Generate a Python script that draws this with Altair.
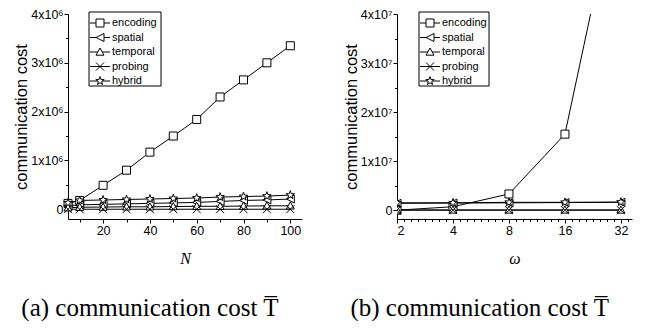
import altair as alt
import pandas as pd

series = ["encoding", "spatial", "temporal", "probing", "hybrid"]

# Panel (a): communication cost vs N
N = [5, 10, 20, 30, 40, 50, 60, 70, 80, 90, 100]
a_encoding = [0.12e6, 0.18e6, 0.49e6, 0.80e6, 1.17e6, 1.50e6, 1.84e6, 2.30e6, 2.65e6, 3.00e6, 3.35e6]
a_spatial = [0.07e6, 0.09e6, 0.10e6, 0.11e6, 0.12e6, 0.13e6, 0.14e6, 0.16e6, 0.18e6, 0.19e6, 0.21e6]
a_temporal = [0.03e6, 0.04e6, 0.045e6, 0.05e6, 0.05e6, 0.055e6, 0.06e6, 0.06e6, 0.065e6, 0.07e6, 0.07e6]
a_probing = [0.0, 0.0, 0.0, 0.0, 0.0, 0.0, 0.0, 0.0, 0.0, 0.0, 0.0]
a_hybrid = [0.13e6, 0.18e6, 0.19e6, 0.20e6, 0.21e6, 0.22e6, 0.23e6, 0.25e6, 0.26e6, 0.27e6, 0.29e6]

# Panel (b): communication cost vs omega
omega = [2, 4, 8, 16, 32]
b_encoding = [0.0, 0.07e7, 0.33e7, 1.55e7, 6.9e7]
b_spatial = [0.14e7, 0.145e7, 0.15e7, 0.155e7, 0.16e7]
b_temporal = [0.005e7, 0.005e7, 0.005e7, 0.005e7, 0.005e7]
b_probing = [0.0, 0.0, 0.0, 0.0, 0.0]
b_hybrid = [0.15e7, 0.15e7, 0.16e7, 0.16e7, 0.165e7]

a_ticks_all = [10, 20, 30, 40, 50, 60, 70, 80, 90, 100]
a_y_ticks = [0, 0.5e6, 1e6, 1.5e6, 2e6, 2.5e6, 3e6, 3.5e6, 4e6]
b_ticks_major = [2, 4, 8, 16, 32]
b_ticks_all = [2 ** (1 + k / 8) for k in range(0, 34)]
b_y_ticks = [0, 0.5e7, 1e7, 1.5e7, 2e7, 2.5e7, 3e7, 3.5e7, 4e7]

STAR = ("M0,-1.1L0.26,-0.36L1.05,-0.34L0.42,0.14L0.65,0.89L0,0.44L-0.65,0.89"
        "L-0.42,0.14L-1.05,-0.34L-0.26,-0.36Z")
plot_paths = [
    "M-1,-1L1,-1L1,1L-1,1Z",
    "M-1,0L1,-1L1,1Z",
    "M0,-1L1,0.8L-1,0.8Z",
    "M-1,-1L1,1M-1,1L1,-1",
    STAR,
]
legend_paths = [
    "M-2.5,0L-1,0M1,0L2.5,0M-1,-1L1,-1L1,1L-1,1Z",
    "M-2.5,0L-1,0M1,0L2.5,0M-1,0L1,-1L1,1Z",
    "M-2.5,0L-0.55,0M0.55,0L2.5,0M0,-1L1,0.8L-1,0.8Z",
    "M-2.5,0L2.5,0M-1,-1L1,1M-1,1L1,-1",
    "M-2.5,0L-0.6,0M0.6,0L2.5,0" + STAR,
]


def long_df(x, cols):
    rows = []
    for name, vals in zip(series, cols):
        for xi, v in zip(x, vals):
            rows.append({"x": xi, "value": v, "series": name})
    return pd.DataFrame(rows)


df_a = long_df(N, [a_encoding, a_spatial, a_temporal, a_probing, a_hybrid])
df_b = long_df(omega, [b_encoding, b_spatial, b_temporal, b_probing, b_hybrid])
legend_df = pd.DataFrame({"series": series})
box_df = pd.DataFrame({"k": [0]})

AX = dict(grid=False, domainColor="black", tickColor="black", labelColor="black",
          labelFont="Liberation Sans", labelFontSize=12.5, titleColor="black",
          labelPadding=1)


def panel(df, xenc_kwargs, yscale, yaxis, box_left, box_right, caption, clip):
    xenc = alt.X("x:Q", **xenc_kwargs)
    yenc = alt.Y("value:Q", scale=yscale, axis=yaxis)
    base = alt.Chart(df)
    lines = base.mark_line(color="black", strokeWidth=1, clip=clip).encode(
        x=xenc, y=yenc, detail="series:N")
    pts = base.mark_point(filled=True, fill="white", stroke="black", strokeWidth=1,
                          opacity=1, size=64, clip=clip).encode(
        x=xenc, y=yenc,
        shape=alt.Shape("series:N", scale=alt.Scale(domain=series, range=plot_paths), legend=None))
    data_layer = alt.layer(lines, pts)
    # legend (box, symbols with line stubs, labels)
    box = alt.Chart(box_df).mark_rect(fill="white", stroke="black", strokeWidth=1).encode(
        x=alt.value(box_left), x2=alt.value(box_right), y=alt.value(-2), y2=alt.value(72))
    ly = alt.Y("series:N", scale=alt.Scale(type="point", domain=series, range=[9, 67], padding=0),
               axis=None)
    lsym = alt.Chart(legend_df).mark_point(filled=True, fill="white", stroke="black",
                                           strokeWidth=1, opacity=1, size=64).encode(
        x=alt.value(box_left + 11), y=ly,
        shape=alt.Shape("series:N", scale=alt.Scale(domain=series, range=legend_paths), legend=None))
    ltxt = alt.Chart(legend_df).mark_text(align="left", baseline="middle", font="Liberation Sans",
                                          fontSize=11, color="black").encode(
        x=alt.value(box_left + 23), y=ly, text="series:N")
    legend_layer = alt.layer(lsym, ltxt)
    return alt.layer(data_layer, box, legend_layer).resolve_scale(
        shape="independent", y="independent").properties(
        title=alt.TitleParams(caption, orient="bottom", font="Liberation Serif", fontSize=25,
                              fontWeight="normal", color="black", offset=29, anchor="middle",
                              frame="bounds", dx=-8))


yaxis_common = dict(title="communication cost", titleFont="Liberation Sans", titleFontSize=16.5,
                    titleFontWeight="normal", titlePadding=1, **AX)

left = panel(
    df_a,
    dict(scale=alt.Scale(domain=[5, 105], nice=False, zero=False),
         axis=alt.Axis(values=a_ticks_all, title="N", titleFont="Liberation Serif",
                       titleFontStyle="italic", titleFontWeight="normal", titleFontSize=16,
                       titlePadding=14,
                       labelExpr="datum.value % 20 == 0 ? datum.label : ''",
                       tickSize={"condition": {"test": "datum.value % 20 == 0", "value": 4}, "value": 3},
                       **AX)),
    alt.Scale(domain=[-0.2e6, 4e6], nice=False, zero=False),
    alt.Axis(values=a_y_ticks,
             labelExpr="datum.value == 0 ? '0' : (datum.value % 1000000 == 0 ? (datum.value/1000000) + 'x10\u2076' : '')",
             tickSize={"condition": {"test": "datum.value % 1000000 == 0", "value": 4}, "value": 2.5},
             **yaxis_common),
    21, 93, "(a) communication cost T\u0305", False,
).properties(width=234, height=205)

right = panel(
    df_b,
    dict(scale=alt.Scale(type="log", base=2, domain=[2, 36.7], nice=False),
         axis=alt.Axis(values=b_ticks_all, title="\u03c9", titleFont="Liberation Serif",
                       titleFontStyle="italic", titleFontWeight="normal", titleFontSize=16,
                       titlePadding=14,
                       labelExpr="indexof([2,4,8,16,32], datum.value) >= 0 ? format(datum.value, 'd') : ''",
                       tickSize={"condition": {"test": "indexof([2,4,8,16,32], datum.value) >= 0", "value": 4}, "value": 2.5},
                       **AX)),
    alt.Scale(domain=[-0.18e7, 4e7], nice=False, zero=False),
    alt.Axis(values=b_y_ticks,
             labelExpr="datum.value == 0 ? '0' : (datum.value % 10000000 == 0 ? (datum.value/10000000) + 'x10\u2077' : '')",
             tickSize={"condition": {"test": "datum.value % 10000000 == 0", "value": 4}, "value": 2.5},
             **yaxis_common),
    22, 92, "(b) communication cost T\u0305", True,
).properties(width=235, height=205)

chart = alt.hconcat(left, right, spacing=41).resolve_scale(
    shape="independent", x="independent", y="independent").configure_view(stroke=None).properties(
    padding={"left": 5, "top": 0, "right": 2, "bottom": 0}, background="white")

chart.save("out.html", embed_options={"renderer": "svg", "actions": False})
